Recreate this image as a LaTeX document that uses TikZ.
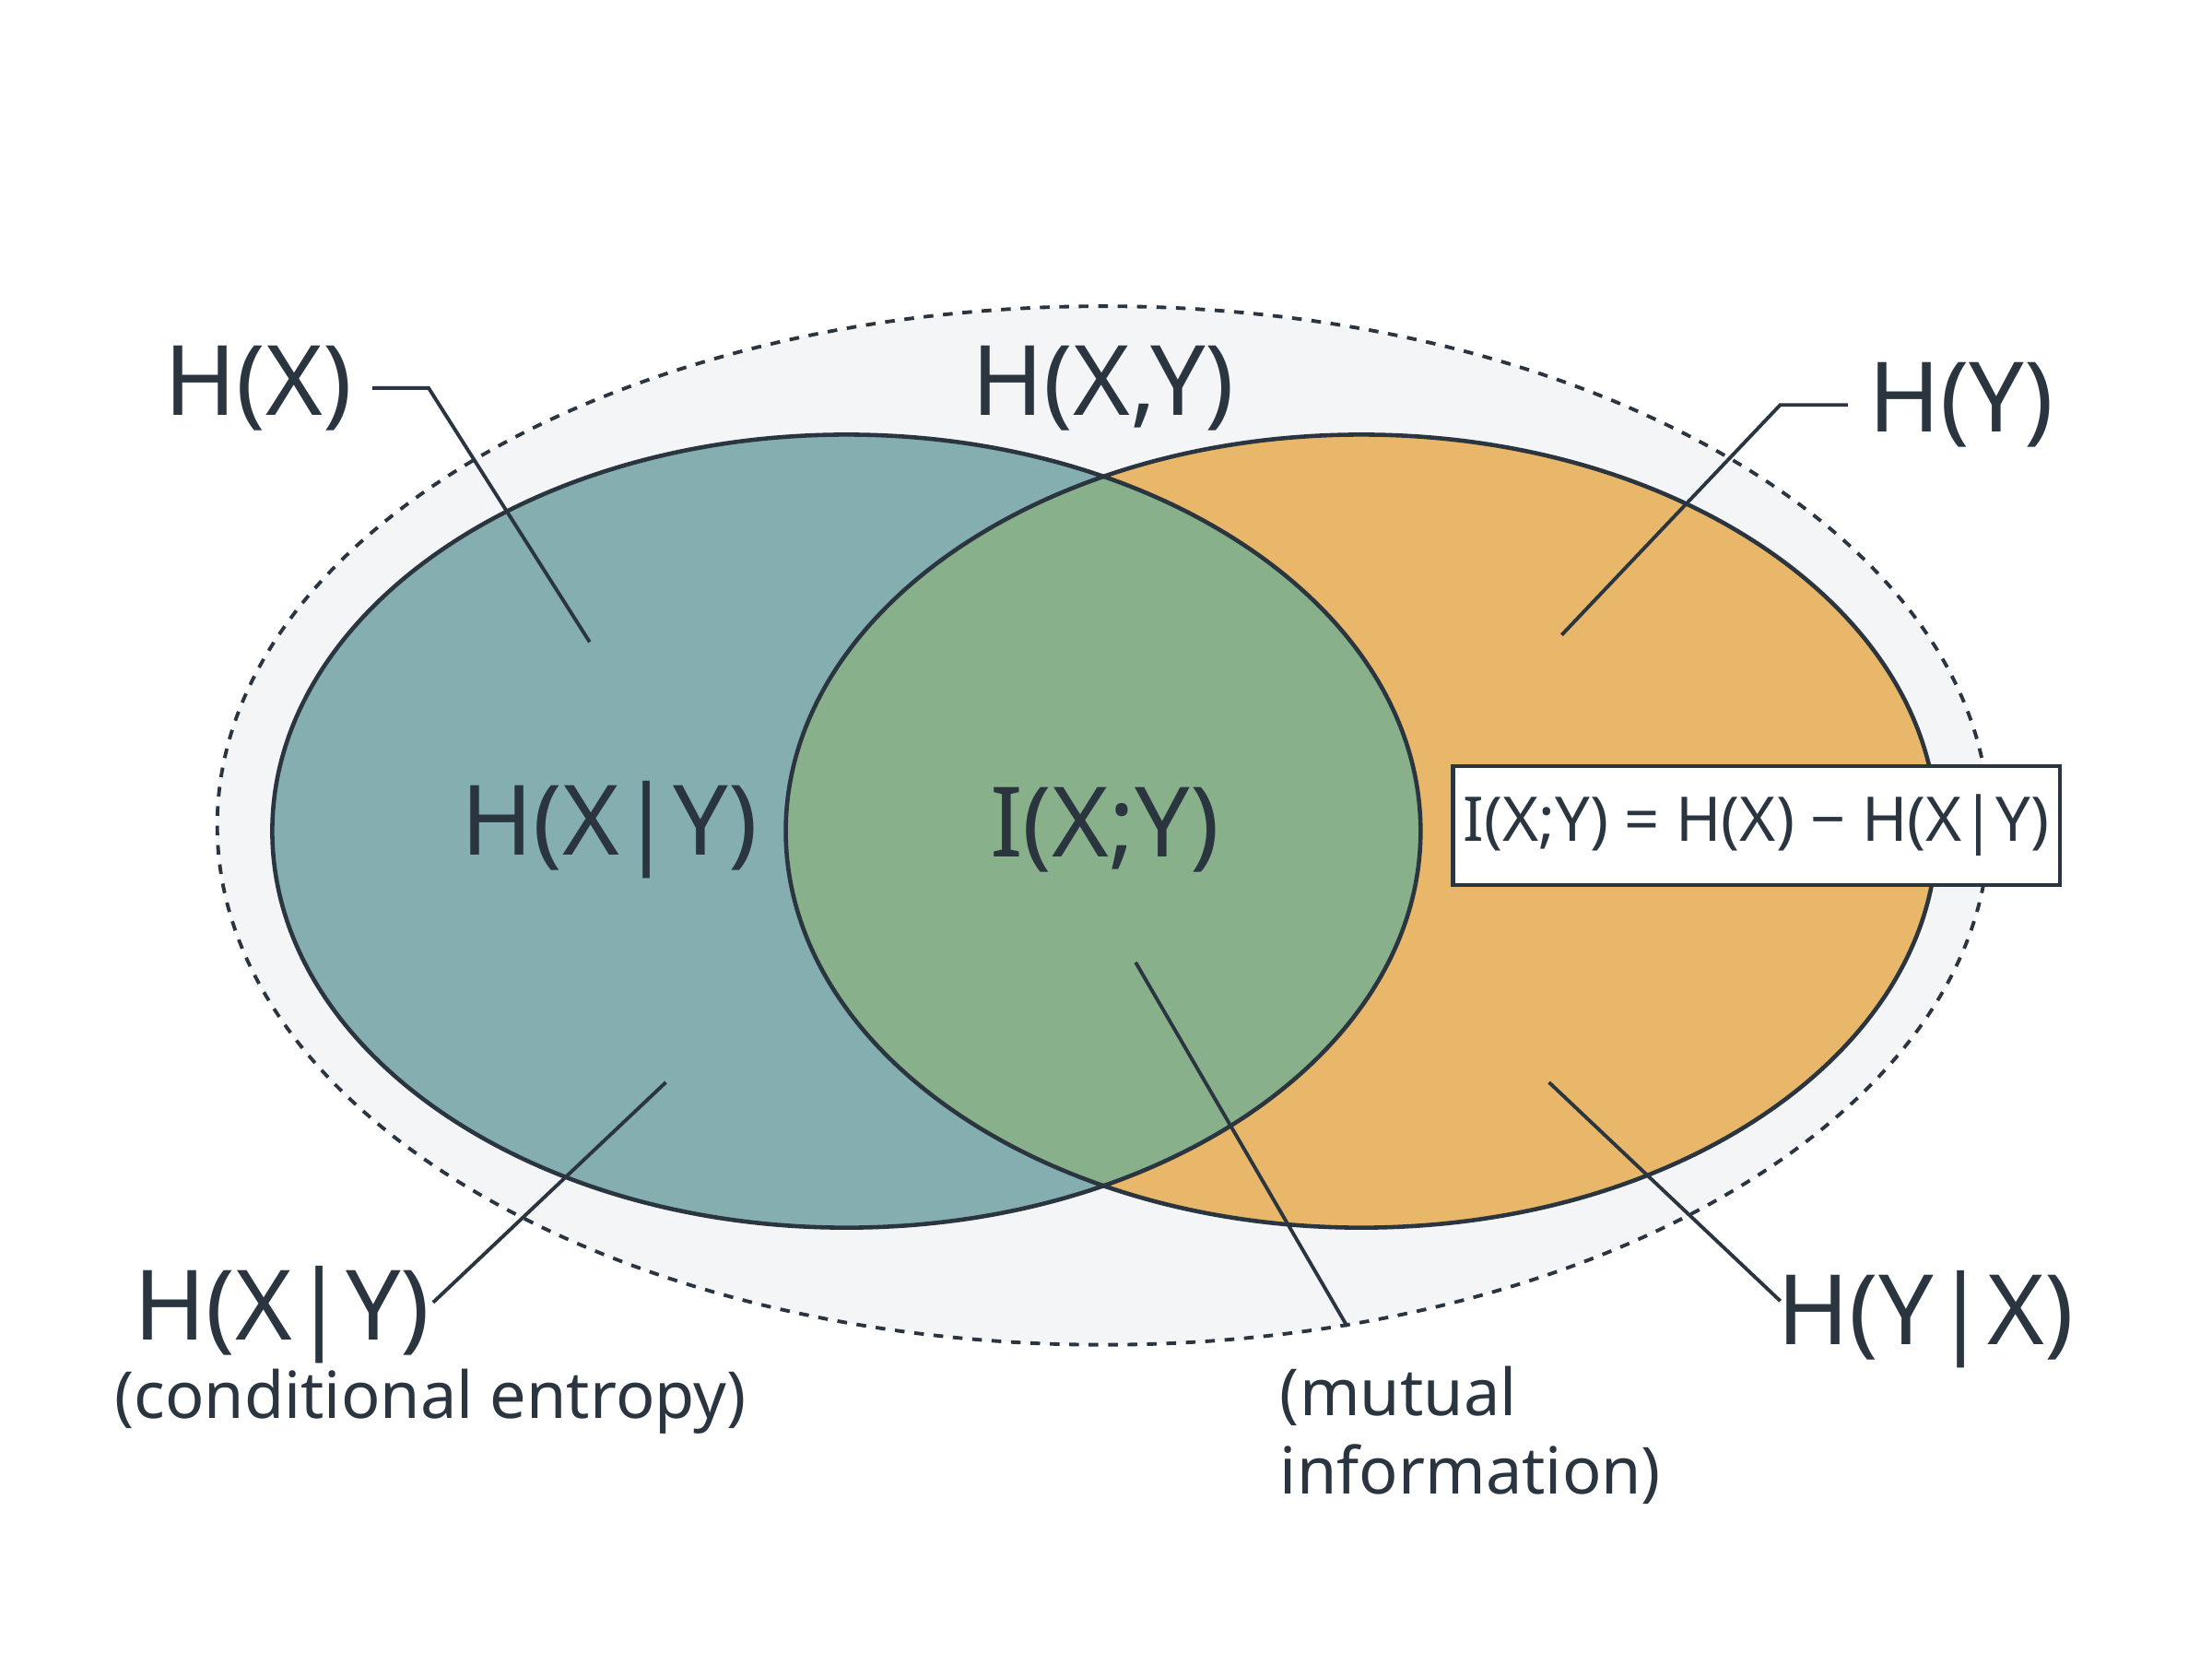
\documentclass[tikz,border=0pt]{standalone}
\usepackage{fontspec}
\setmainfont{Noto Sans}
\definecolor{linec}{HTML}{2A3540}
\definecolor{tealc}{HTML}{84AEB0}
\definecolor{orangec}{HTML}{E8B76A}
\definecolor{greenc}{HTML}{88B08A}
\definecolor{bgc}{HTML}{F3F5F7}
\begin{document}
\begin{tikzpicture}[x=0.015306cm, y=-0.015306cm,
  big/.style={font=\fontsize{30}{34}\selectfont, text=linec, inner sep=0pt},
  small/.style={font=\fontsize{20}{24}\selectfont, text=linec, inner sep=0pt},
  lead/.style={draw=linec, line width=1.1pt}]
\useasboundingbox (0,0) rectangle (1568,1171);

% outer joint entropy
\draw[linec, dashed, line width=1.1pt, fill=bgc] (782,585) ellipse [x radius=628, y radius=368];

% the two sets
\fill[tealc] (600,589) ellipse [x radius=407, y radius=281];
\fill[orangec] (965,589) ellipse [x radius=408, y radius=281];
\begin{scope}
  \clip (600,589) ellipse [x radius=407, y radius=281];
  \fill[greenc] (965,589) ellipse [x radius=408, y radius=281];
\end{scope}
\draw[linec, line width=1.3pt] (600,589) ellipse [x radius=407, y radius=281];
\draw[linec, line width=1.3pt] (965,589) ellipse [x radius=408, y radius=281];

% labels
\node[big] (hx) at (183,275) {H(X)};
\node[big] (hxy) at (782,275) {H(X,Y)};
\node[big] (hy) at (1390,287) {H(Y)};
\node[big] (hxgy) at (432,588) {H(X|Y)};
\node[big] (ixy) at (783,588) {I(X;Y)};
\node[draw=linec, line width=1.3pt, fill=white, minimum width=410\pgflinewidth, text=linec,
  font=\fontsize{19}{22}\selectfont, minimum width=6.28cm, minimum height=1.29cm] (form) at (1245,585)
  {I(X;Y) = H(X) − H(X|Y)};
\node[big] (hxgyb) at (200,932) {H(X|Y)};
\node[small] (cond) at (305,993) {(conditional entropy)};
\node[big] (hygx) at (1365,935) {H(Y|X)};
\node[small, anchor=north west, align=left] (mut) at (907,968) {(mutual\\information)};

% leader lines
\coordinate (pa) at (418,455);
\coordinate (pb) at (1107,450);
\coordinate (pc) at (472,767);
\coordinate (pd) at (805,682);
\coordinate (pe) at (1098,767);
\draw[lead] (hx.east) ++(14,0) -- +(40,0) -- (pa);
\draw[lead] (hy.west) ++(-14,0) -- +(-48,0) -- (pb);
\draw[lead] (307,923) -- (pc);
\draw[lead] (955,940) -- (pd);
\draw[lead] (1262,922) -- (pe);
\end{tikzpicture}
\end{document}
